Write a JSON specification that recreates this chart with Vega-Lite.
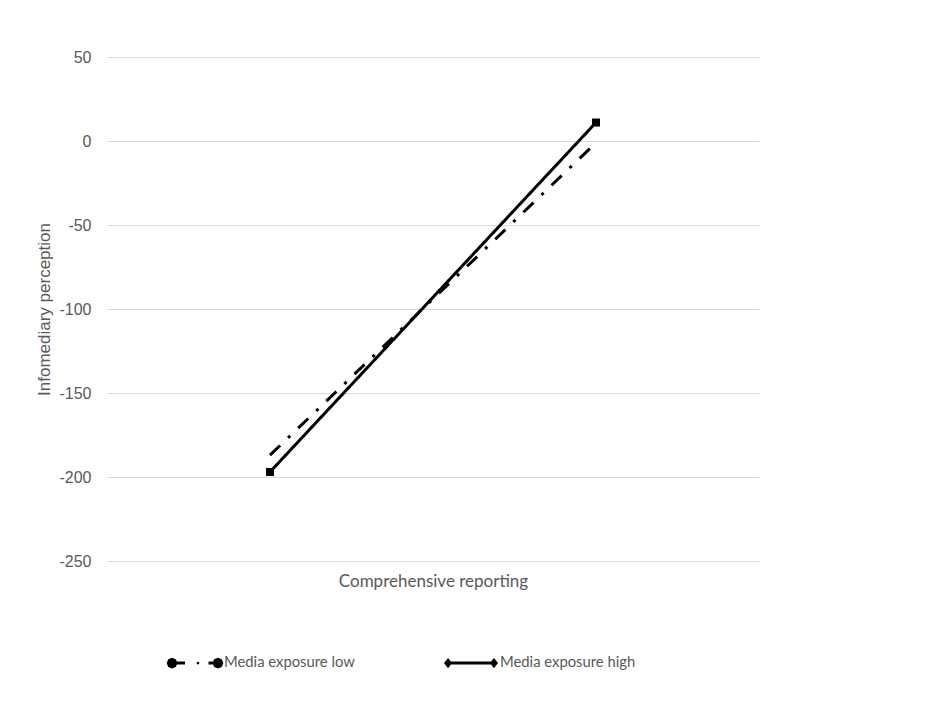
{
  "$schema": "https://vega.github.io/schema/vega-lite/v6.json",
  "width": 652,
  "height": 504,
  "autosize": {"type": "none"},
  "padding": {"left": 107, "top": 57, "right": 169, "bottom": 154},
  "background": "white",
  "config": {"view": {"stroke": null}, "font": "Liberation Sans"},
  "data": {
    "values": [
      {"series": "Media exposure low", "level": "Low", "value": -187},
      {"series": "Media exposure low", "level": "High", "value": -1},
      {"series": "Media exposure high", "level": "Low", "value": -197},
      {"series": "Media exposure high", "level": "High", "value": 11}
    ]
  },
  "encoding": {
    "x": {
      "field": "level",
      "type": "ordinal",
      "sort": ["Low", "High"],
      "scale": {"type": "point", "padding": 0.5},
      "axis": {
        "labels": false,
        "ticks": false,
        "domain": false,
        "title": "Comprehensive reporting",
        "titleFont": "Lato",
        "titleFontSize": 17,
        "titleFontWeight": "normal",
        "titleColor": "#595959",
        "titlePadding": 12
      }
    },
    "y": {
      "field": "value",
      "type": "quantitative",
      "scale": {"domain": [-250, 50], "nice": false, "zero": false},
      "axis": {
        "values": [-250, -200, -150, -100, -50, 0, 50],
        "labelExpr": "datum.value < 0 ? '-' + abs(datum.value) : '' + datum.value",
        "domain": false,
        "ticks": false,
        "gridColor": "#d9d9d9",
        "gridWidth": 1,
        "labelPadding": 16,
        "labelFont": "Liberation Sans",
        "labelFontSize": 16,
        "labelColor": "#595959",
        "title": "Infomediary perception",
        "titleFont": "Liberation Sans",
        "titleFontSize": 17,
        "titleFontWeight": "normal",
        "titleColor": "#595959",
        "titlePadding": 5
      }
    }
  },
  "layer": [
    {
      "mark": {"type": "line", "color": "black", "strokeWidth": 3, "strokeCap": "butt"},
      "encoding": {
        "detail": {"field": "series", "type": "nominal"},
        "strokeDash": {
          "condition": {"test": "datum.series === 'Media exposure low'", "value": [14, 11, 3, 11]},
          "value": [1, 0]
        }
      }
    },
    {
      "transform": [{"filter": "datum.series === 'Media exposure high'"}],
      "mark": {"type": "point", "shape": "square", "filled": true, "color": "black", "size": 64, "opacity": 1}
    },
    {
      "mark": {"type": "point", "filled": true, "color": "black", "opacity": 0},
      "encoding": {
        "shape": {
          "field": "series",
          "type": "nominal",
          "scale": {
            "domain": ["Media exposure low", "Media exposure high"],
            "range": [
              "M-0.65,0L-0.709,0.141L-0.85,0.2L-0.991,0.141L-1.05,0L-0.991,-0.141L-0.85,-0.2L-0.709,-0.141Z M-0.75,-0.055L-0.37,-0.055L-0.37,0.055L-0.75,0.055Z M0.17,0L0.11,0.06L0.05,0L0.11,-0.06Z M0.5,-0.055L0.75,-0.055L0.75,0.055L0.5,0.055Z M1.05,0L0.991,0.141L0.85,0.2L0.709,0.141L0.65,0L0.709,-0.141L0.85,-0.2L0.991,-0.141Z",
              "M-1,0L-0.85,-0.19L-0.7,0L-0.85,0.19Z M-0.85,-0.055L0.85,-0.055L0.85,0.055L-0.85,0.055Z M0.7,0L0.85,-0.19L1,0L0.85,0.19Z"
            ]
          },
          "legend": {
            "orient": "none",
            "legendX": 61,
            "legendY": 579,
            "direction": "horizontal",
            "title": null,
            "symbolSize": 2916,
            "symbolFillColor": "black",
            "symbolStrokeColor": "black",
            "symbolStrokeWidth": 0,
            "symbolOpacity": 1,
            "labelFont": "Lato",
            "labelFontSize": 14.8,
            "labelColor": "#595959",
            "labelOffset": 2,
            "columnPadding": 89,
            "padding": 0
          }
        }
      }
    }
  ]
}
